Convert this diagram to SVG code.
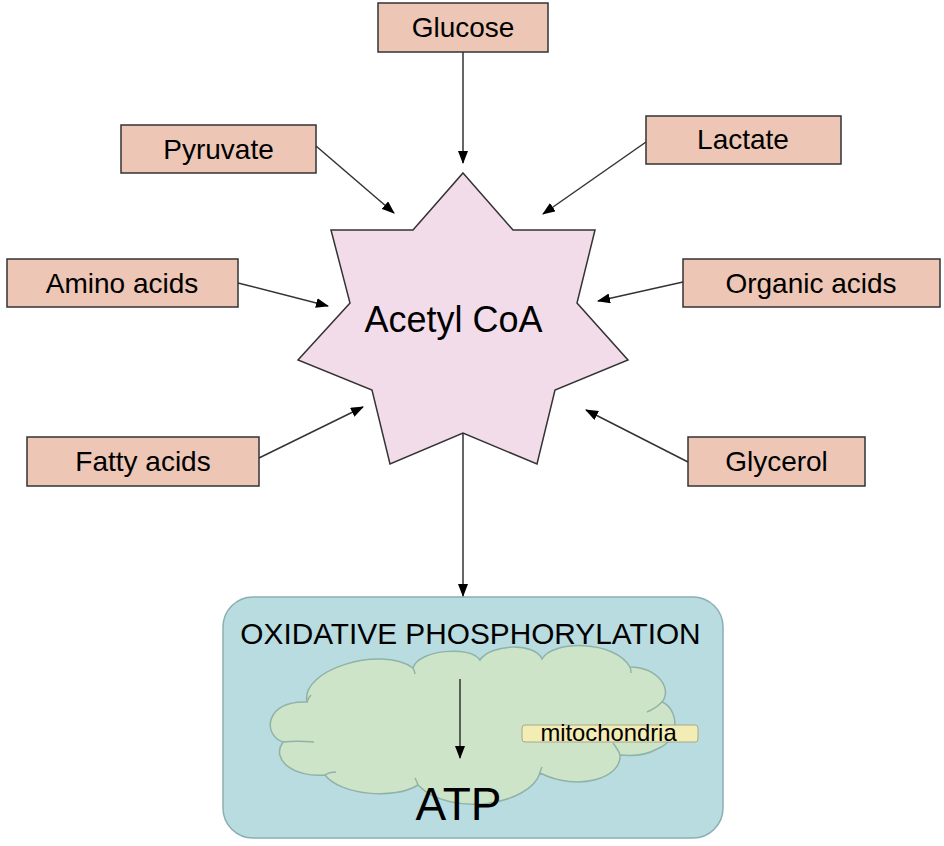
<svg xmlns="http://www.w3.org/2000/svg" width="944" height="846" viewBox="0 0 944 846">
<style>
.box{fill:#edc6b5;stroke:#333;stroke-width:1.5}
.lbl{font-family:"Liberation Sans",Arial,sans-serif;font-size:28px;fill:#000;text-anchor:middle}
.con{stroke:#333;stroke-width:1.5;fill:none;marker-end:url(#ah)}
.cloud{fill:#cde4c8;stroke:#90b2a8;stroke-width:1.5}
.tick{fill:none;stroke:#90b2a8;stroke-width:1.5}
</style>
<defs>
<marker id="ah" markerUnits="userSpaceOnUse" markerWidth="13" markerHeight="10" refX="12" refY="5" orient="auto">
<path d="M0,0 L13,5 L0,10 z" fill="#000"/>
</marker>
</defs>
<rect width="944" height="846" fill="#fff"/>

<g id="oxphos">
<rect x="223" y="597" width="500" height="241" rx="30" ry="30" fill="#b8dce0" stroke="#8aafb3" stroke-width="1.5"/>
<text x="470.5" y="644" class="lbl" style="font-size:29.8px">OXIDATIVE PHOSPHORYLATION</text>
</g>

<g id="mitochondria-cloud">
<path class="cloud" d="M307,702 C300,670 380,645 413,668 C418,650 470,645 480,660 C490,644 535,642 542,659 C552,640 615,640 630,667 C660,668 672,690 662,702 C678,708 682,740 657,749 C645,756 630,756 620,755 C622,778 578,792 540,773 C530,805 450,818 418,785 C395,800 340,795 325,775 C295,778 270,760 283,742 C262,735 265,700 307,702 Z"/>
<path class="tick" d="M283,742 C292,741 303,741 314,742"/>
<path class="tick" d="M325,775 C328,773 332,772 336,772"/>
<path class="tick" d="M418,785 C417,782 416,780 415,778"/>
<path class="tick" d="M413,668 C414,670 415,672 415,674"/>
<path class="tick" d="M630,667 C631,669 631,671 631,673"/>
<path class="tick" d="M662,702 C658,706 652,710 647,712"/>
<path class="tick" d="M620,755 C619,751 616,747 613,743"/>
<path class="tick" d="M540,773 C540,771 541,769 542,767"/>
<path class="tick" d="M307,702 C308,699 309,697 311,695"/>
</g>

<g id="mito-label">
<rect x="522" y="725" width="176" height="17" rx="3" fill="#f2ecb5" stroke="#a8a88a" stroke-width="1"/>
<text x="608.5" y="741" class="lbl" style="font-size:23.8px">mitochondria</text>
</g>

<g id="atp">
<text x="458.5" y="820" class="lbl" style="font-size:46px">ATP</text>
</g>

<g id="acetyl-coa">
<polygon points="463,173 513,230 595,230 577,303 628,360 555,390 537,464 463,433 390,464 372,390 298,360 350,303 331,230 413,230" fill="#f3dcea" stroke="#333" stroke-width="1.5"/>
<text x="453.5" y="332" class="lbl" style="font-size:36px">Acetyl CoA</text>
</g>

<g id="glucose">
<rect class="box" x="378" y="3" width="170" height="49"/>
<text x="463" y="37" class="lbl">Glucose</text>
</g>
<g id="pyruvate">
<rect class="box" x="121" y="125" width="195" height="48"/>
<text x="218.5" y="159" class="lbl">Pyruvate</text>
</g>
<g id="lactate">
<rect class="box" x="646" y="116" width="195" height="48"/>
<text x="743" y="149" class="lbl">Lactate</text>
</g>
<g id="amino-acids">
<rect class="box" x="7" y="259" width="231" height="48"/>
<text x="122" y="293" class="lbl">Amino acids</text>
</g>
<g id="organic-acids">
<rect class="box" x="683" y="259" width="257" height="48"/>
<text x="811" y="293" class="lbl">Organic acids</text>
</g>
<g id="fatty-acids">
<rect class="box" x="27" y="437" width="232" height="49"/>
<text x="143" y="471" class="lbl">Fatty acids</text>
</g>
<g id="glycerol">
<rect class="box" x="688" y="437" width="177" height="49"/>
<text x="776.5" y="471" class="lbl">Glycerol</text>
</g>

<g id="connectors">
<line class="con" x1="463" y1="52" x2="463" y2="163"/>
<line class="con" x1="316" y1="146" x2="394" y2="213"/>
<line class="con" x1="646" y1="142" x2="543" y2="214"/>
<line class="con" x1="238" y1="283" x2="328" y2="306"/>
<line class="con" x1="683" y1="282" x2="598" y2="301"/>
<line class="con" x1="259" y1="458" x2="363" y2="407"/>
<line class="con" x1="688" y1="462" x2="586" y2="410"/>
<line class="con" x1="463" y1="433" x2="463" y2="596"/>
<line class="con" x1="460" y1="679" x2="460" y2="758"/>
</g>
</svg>
